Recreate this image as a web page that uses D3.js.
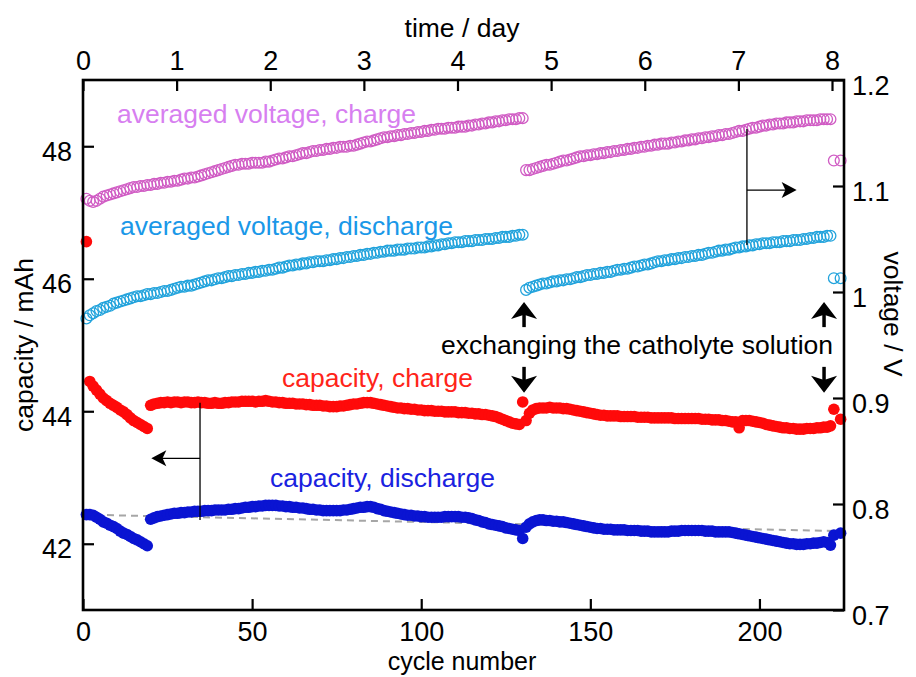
<!DOCTYPE html>
<html>
<head>
<meta charset="utf-8">
<script src="https://cdn.jsdelivr.net/npm/d3@7"></script>
<style>
  html, body { margin: 0; padding: 0; background: #fff; }
  svg { display: block; font-family: "Liberation Sans", Arial, Helvetica, sans-serif; }
</style>
</head>
<body>
<svg id="chart" width="916" height="677"></svg>
<script>
// ---- data -------------------------------------------------------------
// cycle number ticks (bottom) and time ticks (top)
const cycleTicks = [0, 50, 100, 150, 200];
const dayTicks = [0, 1, 2, 3, 4, 5, 6, 7, 8];
const capTicks = [42, 44, 46, 48];
const voltTicks = [0.7, 0.8, 0.9, 1.0, 1.1, 1.2];
const voltTickLabels = ["0.7", "0.8", "0.9", "1", "1.1", "1.2"];

// averaged charge voltage / V, cycles 1-130 and 131-221, then cycles 222 and 224
const vChargeA = [
  1.088, 1.086, 1.085, 1.086, 1.088, 1.090, 1.091, 1.092, 1.093, 1.094,
  1.095, 1.096, 1.097, 1.098, 1.099, 1.099, 1.100, 1.100, 1.101, 1.101,
  1.102, 1.102, 1.103, 1.103, 1.104, 1.104, 1.105, 1.105, 1.106, 1.107,
  1.107, 1.108, 1.108, 1.109, 1.110, 1.111, 1.112, 1.113, 1.114, 1.115,
  1.116, 1.117, 1.118, 1.119, 1.120, 1.120, 1.121, 1.121, 1.121, 1.122,
  1.122, 1.122, 1.122, 1.123, 1.123, 1.124, 1.125, 1.126, 1.126, 1.127,
  1.128, 1.128, 1.129, 1.130, 1.131, 1.131, 1.132, 1.133, 1.133, 1.134,
  1.134, 1.135, 1.135, 1.136, 1.136, 1.137, 1.137, 1.137, 1.138, 1.138,
  1.139, 1.140, 1.141, 1.142, 1.142, 1.143, 1.144, 1.145, 1.146, 1.146,
  1.147, 1.147, 1.148, 1.148, 1.149, 1.149, 1.150, 1.150, 1.151, 1.151,
  1.152, 1.152, 1.153, 1.153, 1.154, 1.154, 1.154, 1.155, 1.155, 1.155,
  1.156, 1.156, 1.156, 1.157, 1.157, 1.158, 1.158, 1.159, 1.159, 1.160,
  1.160, 1.161, 1.161, 1.162, 1.162, 1.163, 1.163, 1.163, 1.164, 1.164
];
const vChargeB = [
  1.115, 1.115, 1.116, 1.117, 1.118, 1.119, 1.120, 1.120, 1.121, 1.122,
  1.123, 1.124, 1.124, 1.125, 1.126, 1.127, 1.128, 1.128, 1.129, 1.129,
  1.130, 1.130, 1.131, 1.131, 1.132, 1.132, 1.133, 1.133, 1.134, 1.134,
  1.135, 1.135, 1.136, 1.136, 1.137, 1.137, 1.138, 1.138, 1.139, 1.139,
  1.140, 1.140, 1.140, 1.141, 1.141, 1.142, 1.142, 1.143, 1.143, 1.144,
  1.144, 1.145, 1.145, 1.146, 1.146, 1.147, 1.147, 1.148, 1.148, 1.149,
  1.149, 1.150, 1.151, 1.152, 1.152, 1.153, 1.154, 1.155, 1.155, 1.156,
  1.157, 1.157, 1.158, 1.158, 1.159, 1.159, 1.159, 1.160, 1.160, 1.160,
  1.161, 1.161, 1.161, 1.162, 1.162, 1.162, 1.162, 1.163, 1.163, 1.163, 1.163
];
const vChargeEnd = [[222, 1.124], [224, 1.124]];

// averaged discharge voltage / V
const vDischargeA = [
  0.975, 0.978, 0.980, 0.982, 0.983, 0.985, 0.986, 0.987, 0.989, 0.990,
  0.991, 0.992, 0.993, 0.994, 0.995, 0.996, 0.996, 0.997, 0.998, 0.998,
  0.999, 0.999, 1.000, 1.001, 1.001, 1.002, 1.003, 1.004, 1.005, 1.005,
  1.006, 1.006, 1.007, 1.008, 1.009, 1.010, 1.011, 1.011, 1.012, 1.013,
  1.013, 1.014, 1.015, 1.015, 1.016, 1.016, 1.017, 1.017, 1.018, 1.018,
  1.019, 1.019, 1.020, 1.020, 1.021, 1.021, 1.022, 1.023, 1.023, 1.024,
  1.025, 1.025, 1.026, 1.026, 1.027, 1.027, 1.028, 1.028, 1.029, 1.029,
  1.029, 1.030, 1.030, 1.031, 1.031, 1.032, 1.032, 1.033, 1.033, 1.034,
  1.034, 1.035, 1.035, 1.036, 1.036, 1.037, 1.037, 1.038, 1.038, 1.039,
  1.039, 1.039, 1.040, 1.040, 1.040, 1.041, 1.041, 1.041, 1.042, 1.042,
  1.042, 1.043, 1.043, 1.044, 1.044, 1.045, 1.045, 1.046, 1.046, 1.047,
  1.047, 1.047, 1.048, 1.048, 1.048, 1.049, 1.049, 1.049, 1.050, 1.050,
  1.050, 1.051, 1.051, 1.052, 1.052, 1.052, 1.053, 1.053, 1.054, 1.054
];
const vDischargeB = [
  1.002, 1.004, 1.005, 1.006, 1.007, 1.008, 1.008, 1.009, 1.010, 1.010,
  1.011, 1.011, 1.012, 1.012, 1.013, 1.014, 1.014, 1.015, 1.016, 1.016,
  1.017, 1.017, 1.018, 1.018, 1.019, 1.019, 1.020, 1.021, 1.021, 1.022,
  1.022, 1.023, 1.024, 1.024, 1.025, 1.026, 1.026, 1.027, 1.028, 1.029,
  1.029, 1.030, 1.030, 1.031, 1.031, 1.032, 1.032, 1.033, 1.033, 1.034,
  1.034, 1.035, 1.035, 1.036, 1.037, 1.037, 1.038, 1.039, 1.039, 1.040,
  1.040, 1.041, 1.042, 1.042, 1.043, 1.043, 1.044, 1.044, 1.045, 1.045,
  1.046, 1.046, 1.046, 1.047, 1.047, 1.047, 1.048, 1.048, 1.048, 1.049,
  1.049, 1.049, 1.050, 1.050, 1.051, 1.051, 1.052, 1.052, 1.052, 1.053, 1.053
];
const vDischargeEnd = [[222, 1.013], [224, 1.013]];

// charge capacity / mAh
const capChargeFirst = [[1, 46.56]];
const capChargeA = [ // cycles 2-19
  44.45, 44.38, 44.32, 44.26, 44.20, 44.16, 44.12, 44.09, 44.06, 44.02,
  43.99, 43.95, 43.90, 43.86, 43.83, 43.80, 43.77, 43.74
];
const capChargeB = [ // cycles 20-129
  44.09, 44.11, 44.12, 44.13, 44.13, 44.14, 44.13, 44.14, 44.14, 44.13,
  44.14, 44.14, 44.13, 44.13, 44.14, 44.13, 44.13, 44.12, 44.12, 44.13,
  44.12, 44.12, 44.13, 44.13, 44.14, 44.14, 44.14, 44.15, 44.15, 44.15,
  44.15, 44.14, 44.15, 44.15, 44.16, 44.15, 44.14, 44.14, 44.13, 44.13,
  44.12, 44.12, 44.12, 44.11, 44.11, 44.11, 44.10, 44.10, 44.09, 44.09,
  44.09, 44.08, 44.08, 44.07, 44.07, 44.07, 44.08, 44.08, 44.09, 44.10,
  44.11, 44.11, 44.12, 44.13, 44.13, 44.13, 44.12, 44.11, 44.10, 44.09,
  44.08, 44.07, 44.06, 44.05, 44.05, 44.04, 44.04, 44.03, 44.03, 44.02,
  44.02, 44.01, 44.01, 44.01, 44.00, 44.00, 44.00, 43.99, 43.99, 43.99,
  43.99, 43.98, 43.98, 43.98, 43.97, 43.97, 43.96, 43.96, 43.95, 43.95,
  43.94, 43.93, 43.92, 43.90, 43.88, 43.86, 43.84, 43.82, 43.81, 43.80
];
const capChargeExchange = [[130, 44.14]];
const capChargeC = [ // cycles 131-221
  43.86, 43.97, 44.02, 44.04, 44.05, 44.05, 44.05, 44.06, 44.05, 44.05,
  44.05, 44.04, 44.04, 44.03, 44.02, 44.01, 44.00, 43.99, 43.98, 43.97,
  43.96, 43.95, 43.94, 43.94, 43.93, 43.93, 43.93, 43.93, 43.92, 43.92,
  43.92, 43.92, 43.92, 43.91, 43.91, 43.91, 43.91, 43.90, 43.90, 43.90,
  43.90, 43.90, 43.90, 43.90, 43.89, 43.89, 43.89, 43.89, 43.89, 43.89,
  43.89, 43.89, 43.88, 43.88, 43.88, 43.87, 43.87, 43.87, 43.86, 43.86,
  43.85, 43.84, 43.84, 43.75, 43.86, 43.86, 43.86, 43.85, 43.84, 43.83,
  43.82, 43.80, 43.79, 43.78, 43.77, 43.76, 43.75, 43.75, 43.74, 43.74,
  43.73, 43.73, 43.73, 43.74, 43.74, 43.74, 43.75, 43.75, 43.76, 43.76, 43.78
];
const capChargeEnd = [[222, 44.03], [224, 43.88]];

// discharge capacity / mAh
const capDischargeA = [ // cycles 1-19
  42.44, 42.44, 42.43, 42.40, 42.37, 42.33, 42.31, 42.28, 42.26, 42.23,
  42.19, 42.16, 42.14, 42.11, 42.08, 42.06, 42.03, 42.00, 41.97
];
const capDischargeB = [ // cycles 20-129
  42.37, 42.39, 42.41, 42.42, 42.43, 42.44, 42.45, 42.46, 42.46, 42.47,
  42.47, 42.48, 42.48, 42.49, 42.49, 42.49, 42.50, 42.50, 42.50, 42.51,
  42.51, 42.51, 42.51, 42.52, 42.52, 42.53, 42.53, 42.54, 42.55, 42.55,
  42.56, 42.56, 42.57, 42.57, 42.58, 42.58, 42.58, 42.58, 42.57, 42.57,
  42.56, 42.56, 42.55, 42.55, 42.54, 42.54, 42.53, 42.52, 42.52, 42.51,
  42.51, 42.50, 42.50, 42.50, 42.50, 42.50, 42.50, 42.51, 42.51, 42.52,
  42.53, 42.54, 42.55, 42.55, 42.56, 42.56, 42.55, 42.53, 42.52, 42.50,
  42.49, 42.48, 42.47, 42.46, 42.45, 42.44, 42.43, 42.43, 42.42, 42.42,
  42.41, 42.41, 42.40, 42.40, 42.40, 42.40, 42.40, 42.41, 42.41, 42.41,
  42.41, 42.41, 42.40, 42.40, 42.39, 42.38, 42.36, 42.35, 42.33, 42.32,
  42.30, 42.29, 42.28, 42.27, 42.26, 42.24, 42.23, 42.22, 42.21, 42.20
];
const capDischargeExchange = [[130, 42.08]];
const capDischargeC = [ // cycles 131-221
  42.25, 42.30, 42.33, 42.35, 42.36, 42.36, 42.35, 42.35, 42.34, 42.34,
  42.33, 42.33, 42.32, 42.31, 42.30, 42.29, 42.28, 42.27, 42.26, 42.25,
  42.24, 42.23, 42.23, 42.22, 42.22, 42.22, 42.21, 42.21, 42.21, 42.21,
  42.20, 42.20, 42.20, 42.20, 42.19, 42.19, 42.19, 42.18, 42.18, 42.18,
  42.18, 42.18, 42.18, 42.19, 42.19, 42.19, 42.20, 42.20, 42.20, 42.20,
  42.20, 42.20, 42.20, 42.19, 42.19, 42.19, 42.18, 42.18, 42.18, 42.18,
  42.18, 42.17, 42.16, 42.15, 42.14, 42.13, 42.12, 42.11, 42.10, 42.09,
  42.08, 42.07, 42.06, 42.05, 42.04, 42.03, 42.02, 42.01, 42.00, 42.00,
  41.99, 41.99, 41.99, 42.00, 42.00, 42.01, 42.01, 42.02, 42.03, 42.02, 41.98
];
const capDischargeEnd = [[222, 42.13], [224, 42.16]];

// dashed guide under the discharge capacity: [cycle, mAh]
const guideLine = [[0, 42.44], [224, 42.19]];

// ---- helpers ----------------------------------------------------------
function run(startCycle, values) {
  return values.map((v, i) => [startCycle + i, v]);
}

const colors = {
  vCharge: "#d05cc4",
  vChargeText: "#d77ff0",
  vDischarge: "#22a3dc",
  vDischargeText: "#1a98e8",
  capCharge: "#ff0a0a",
  capChargeText: "#ff2419",
  capDischarge: "#0a14d2",
  capDischargeText: "#1a22e0"
};

// ---- layout & scales --------------------------------------------------
const svg = d3.select("#chart");
const M = { left: 83, right: 844, top: 80, bottom: 610 };

const x = d3.scaleLinear().domain([0, 225]).range([M.left, M.right]);
const xDay = d3.scaleLinear().domain([0, 8 * (M.right - M.left) / (832 - M.left)]).range([M.left, M.right]);
const yCap = d3.scaleLinear().domain([41, 49]).range([M.bottom, M.top]);
const yVolt = d3.scaleLinear().domain([0.7, 1.2]).range([M.bottom, M.top]);

const fontTick = 27;
const fontLabel = 26.5;

// ---- dashed guide -----------------------------------------------------
svg.append("line")
  .attr("x1", x(guideLine[0][0])).attr("y1", yCap(guideLine[0][1]))
  .attr("x2", x(guideLine[1][0])).attr("y2", yCap(guideLine[1][1]))
  .attr("stroke", "#a6a6a6").attr("stroke-width", 2)
  .attr("stroke-dasharray", "7,5");

// ---- voltage series (open circles, right axis) ------------------------
function openCircles(data, color) {
  svg.append("g").selectAll("circle").data(data).join("circle")
    .attr("cx", d => x(d[0])).attr("cy", d => yVolt(d[1]))
    .attr("r", 5.4)
    .attr("fill", "none").attr("stroke", color).attr("stroke-width", 1.3);
}
openCircles(run(1, vChargeA).concat(run(131, vChargeB), vChargeEnd), colors.vCharge);
openCircles(run(1, vDischargeA).concat(run(131, vDischargeB), vDischargeEnd), colors.vDischarge);

// ---- capacity series (filled dots, left axis) -------------------------
function filledDots(data, color) {
  svg.append("g").selectAll("circle").data(data).join("circle")
    .attr("cx", d => x(d[0])).attr("cy", d => yCap(d[1]))
    .attr("r", 5.8).attr("fill", color);
}
filledDots(run(1, capDischargeA).concat(run(20, capDischargeB), capDischargeExchange,
  run(131, capDischargeC), capDischargeEnd), colors.capDischarge);
filledDots(capChargeFirst.concat(run(2, capChargeA), run(20, capChargeB), capChargeExchange,
  run(131, capChargeC), capChargeEnd), colors.capCharge);

// ---- annotation arrows ------------------------------------------------
const ann = svg.append("g").attr("stroke", "#000").attr("fill", "#000");

function head(tipX, tipY, dir, len, half) {
  // dir: unit vector pointing toward the tip
  const bx = tipX - dir[0] * len, by = tipY - dir[1] * len;
  const px = -dir[1], py = dir[0];
  const nx = bx + dir[0] * len * 0.25, ny = by + dir[1] * len * 0.25;
  ann.append("path")
    .attr("d", `M${tipX},${tipY}L${bx + px * half},${by + py * half}` +
      `L${nx},${ny}L${bx - px * half},${by - py * half}Z`)
    .attr("stroke", "none");
}

// bracket pointing to the capacity axis
const cx1 = x(34.6);
ann.append("line").attr("x1", cx1).attr("x2", cx1)
  .attr("y1", yCap(44.13)).attr("y2", yCap(42.36)).attr("stroke-width", 1.3);
ann.append("line").attr("x1", cx1).attr("x2", x(20.2) + 8)
  .attr("y1", yCap(43.29)).attr("y2", yCap(43.29)).attr("stroke-width", 1.3);
head(x(20.2), yCap(43.29), [-1, 0], 15, 8);

// bracket pointing to the voltage axis
const cx2 = x(196.3);
ann.append("line").attr("x1", cx2).attr("x2", cx2)
  .attr("y1", yVolt(1.1538)).attr("y2", yVolt(1.0443)).attr("stroke-width", 1.3);
ann.append("line").attr("x1", cx2).attr("x2", x(211) - 8)
  .attr("y1", yVolt(1.0962)).attr("y2", yVolt(1.0962)).attr("stroke-width", 1.3);
head(x(211), yVolt(1.0962), [1, 0], 15, 8);

// catholyte exchange markers
[130.4, 219.1].forEach(c => {
  const cx = x(c);
  ann.append("line").attr("x1", cx).attr("x2", cx)
    .attr("y1", yCap(45.27)).attr("y2", yCap(45.65) + 6).attr("stroke-width", 3.5);
  head(cx, yCap(45.65), [0, -1], 17, 13);
  ann.append("line").attr("x1", cx).attr("x2", cx)
    .attr("y1", yCap(44.67)).attr("y2", yCap(44.28) - 6).attr("stroke-width", 3.5);
  head(cx, yCap(44.28), [0, 1], 17, 13);
});

// ---- series labels ----------------------------------------------------
const labels = [
  { text: "averaged voltage, charge", x: 117, y: 123, color: colors.vChargeText, anchor: "start" },
  { text: "averaged voltage, discharge", x: 120, y: 235, color: colors.vDischargeText, anchor: "start" },
  { text: "capacity, charge", x: 282, y: 387, color: colors.capChargeText, anchor: "start" },
  { text: "capacity, discharge", x: 270, y: 487, color: colors.capDischargeText, anchor: "start" },
  { text: "exchanging the catholyte solution", x: 833, y: 354, color: "#000", anchor: "end" }
];
svg.append("g").selectAll("text").data(labels).join("text")
  .attr("x", d => d.x).attr("y", d => d.y)
  .attr("fill", d => d.color).attr("text-anchor", d => d.anchor)
  .attr("font-size", fontLabel)
  .text(d => d.text);

// ---- axes -------------------------------------------------------------
const tickLen = 11;

const axisBottom = d3.axisBottom(x).tickValues(cycleTicks).tickSizeInner(-tickLen).tickSizeOuter(0);
const axisTop = d3.axisTop(xDay).tickValues(dayTicks).tickSizeInner(-tickLen).tickSizeOuter(0);
const axisLeft = d3.axisLeft(yCap).tickValues(capTicks).tickSizeInner(-tickLen).tickSizeOuter(0).tickPadding(11);
const axisRight = d3.axisRight(yVolt).tickValues(voltTicks)
  .tickFormat((d, i) => voltTickLabels[i]).tickSizeInner(-tickLen).tickSizeOuter(0).tickPadding(8);

function styleAxis(g) {
  g.select(".domain").remove();
  g.selectAll(".tick line").attr("stroke", "#000").attr("stroke-width", 2.2);
  g.selectAll(".tick text").attr("fill", "#000").attr("font-size", fontTick)
    .attr("font-family", "'Liberation Sans', Arial, Helvetica, sans-serif");
}

svg.append("g").attr("transform", `translate(0,${M.bottom})`).call(axisBottom).call(styleAxis)
  .selectAll(".tick text").attr("dy", null).attr("y", 31);
svg.append("g").attr("transform", `translate(0,${M.top})`).call(axisTop).call(styleAxis)
  .selectAll(".tick text").attr("dy", null).attr("y", -10);
svg.append("g").attr("transform", `translate(${M.left},0)`).call(axisLeft).call(styleAxis)
  .selectAll(".tick text").attr("dy", null).attr("y", 14);
svg.append("g").attr("transform", `translate(${M.right},0)`).call(axisRight).call(styleAxis)
  .selectAll(".tick text").attr("dy", null).attr("y", 14);

// frame
svg.append("rect")
  .attr("x", M.left).attr("y", M.top).attr("width", M.right - M.left).attr("height", M.bottom - M.top)
  .attr("fill", "none").attr("stroke", "#000").attr("stroke-width", 2.6);

// axis titles
svg.append("text").attr("x", 462).attr("y", 37).attr("text-anchor", "middle")
  .attr("font-size", fontLabel).text("time / day");
svg.append("text").attr("x", 462).attr("y", 670).attr("text-anchor", "middle")
  .attr("font-size", 25).text("cycle number");
svg.append("text").attr("transform", `translate(33,${(M.top + M.bottom) / 2}) rotate(-90)`)
  .attr("text-anchor", "middle").attr("font-size", fontLabel).text("capacity / mAh");
svg.append("text").attr("transform", `translate(884,314) rotate(90)`)
  .attr("text-anchor", "middle").attr("font-size", fontLabel).text("voltage / V");
</script>
</body>
</html>
